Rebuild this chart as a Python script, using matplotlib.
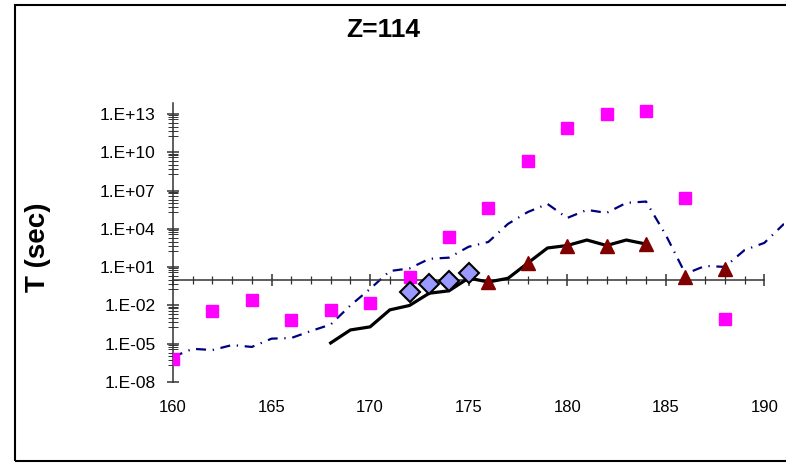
import numpy as np
import matplotlib.pyplot as plt
from matplotlib.patches import Rectangle
from matplotlib.ticker import NullFormatter
import matplotlib.transforms as mtransforms

plt.rcParams['font.family'] = ['Liberation Sans', 'DejaVu Sans']

# magenta squares
sq_x = [160, 162, 164, 166, 168, 170, 172, 174, 176, 178, 180, 182, 184, 186, 188]
sq_y = [6.3e-7, 3.7e-3, 2.7e-2, 7.4e-4, 4.5e-3, 1.6e-2, 1.6, 2.3e3, 4e5, 2e9, 8e11, 1e13, 1.7e13, 2.7e6, 8.7e-4]

# navy dash-dot line
dash_x = list(range(160, 192))
dash_y = [9.3e-7, 4e-6, 3.2e-6, 7.9e-6, 5.6e-6, 2.5e-5, 2.8e-5, 1e-4, 3.2e-4, 1e-2,
          0.2, 5, 8, 45, 56, 400, 950, 2.5e4, 2.1e5, 9.1e5,
          7.2e4, 3.1e5, 1.8e5, 1.1e6, 1.4e6, 3400, 3, 12.6, 10.5, 220,
          800, 2.5e4]

# black solid line
line_x = list(range(168, 185))
line_y = [1.15e-5, 1.2e-4, 2.1e-4, 4.5e-3, 1e-2, 9.1e-2, 0.14, 1.4, 0.69, 1.35,
          21, 320, 500, 1350, 500, 1350, 650]

# light blue diamonds
dia_x = [172, 173, 174, 175]
dia_y = [0.115, 0.49, 0.83, 3.5]

# dark red triangles
tri_x = [176, 178, 180, 182, 184, 186, 188]
tri_y = [0.69, 21, 500, 500, 650, 1.7, 7.2]

xticks = [160, 165, 170, 175, 180, 185, 190]
yexp = list(range(-8, 14, 3))

fig = plt.figure(figsize=(7.86, 4.65), dpi=100)
ax = fig.add_axes([173 / 786, 83 / 465, 611 / 786, 279 / 465])
ax.set_yscale('log')
ax.set_xlim(160, 191)
ax.set_ylim(1e-8, 10 ** 13.87)

ax.plot(dash_x, dash_y, color='#000080', lw=1.6, ls=(0, (4.5, 3, 0.6, 3)), zorder=2)
ax.plot(line_x, line_y, color='black', lw=2.3, zorder=3)
ax.plot(sq_x, sq_y, ls='none', marker='s', ms=8, color='#FF00FF', mec='#FF00FF', zorder=4)
ax.plot(dia_x, dia_y, ls='none', marker='D', ms=10, mfc='#9999FF', mec='black', mew=1.5, zorder=5)
ax.plot(tri_x, tri_y, ls='none', marker='^', ms=10, color='#800000', zorder=5)

for s in ['top', 'right']:
    ax.spines[s].set_visible(False)
ax.spines['bottom'].set_position(('data', 1))
ax.spines['bottom'].set_bounds(160, 190)
for s in ['bottom', 'left']:
    ax.spines[s].set_color('#333333')
    ax.spines[s].set_linewidth(1.1)

ax.set_xticks(xticks)
ax.set_xticks(range(160, 191), minor=True)
ax.tick_params(axis='x', which='major', direction='inout', length=9, width=1.1,
               color='#333333', labelbottom=False)
ax.tick_params(axis='x', which='minor', direction='inout', length=6, width=0.9, color='#333333')

ax.set_yticks([10.0 ** k for k in yexp])
ax.set_yticklabels([f"1.E{k:+03d}" for k in yexp])
minor = []
for k in yexp:
    minor += [n * 10.0 ** (k - 1) for n in (1, 2, 4, 6, 8)]
    minor += [n * 10.0 ** (k - 2) for n in (2, 5)]
ax.set_yticks([m for m in minor if 1e-8 < m < 10 ** 13.87], minor=True)
ax.yaxis.set_minor_formatter(NullFormatter())
ax.tick_params(axis='y', which='major', direction='inout', length=9, width=1.1,
               color='#333333', labelsize=12.5, pad=8)
ax.tick_params(axis='y', which='minor', direction='inout', length=7, width=0.7, color='#333333')

trans = mtransforms.blended_transform_factory(ax.transData, ax.transAxes)
for v in xticks:
    ax.text(v, -0.09, str(v), transform=trans, ha='center', va='center', fontsize=12)

fig.text(38 / 786, 1 - 247 / 465, "T (sec)", rotation=90, ha='center', va='center',
         fontsize=20, fontweight='bold')
fig.text(383 / 786, 1 - 30 / 465, "Z=114", ha='center', va='center',
         fontsize=19, fontweight='bold')

fig.patches.append(Rectangle((15 / 786, 4 / 465), 1.0, 1 - 9 / 465, transform=fig.transFigure,
                             fill=False, edgecolor='black', lw=1.5))

fig.savefig('out.png', dpi=100)
